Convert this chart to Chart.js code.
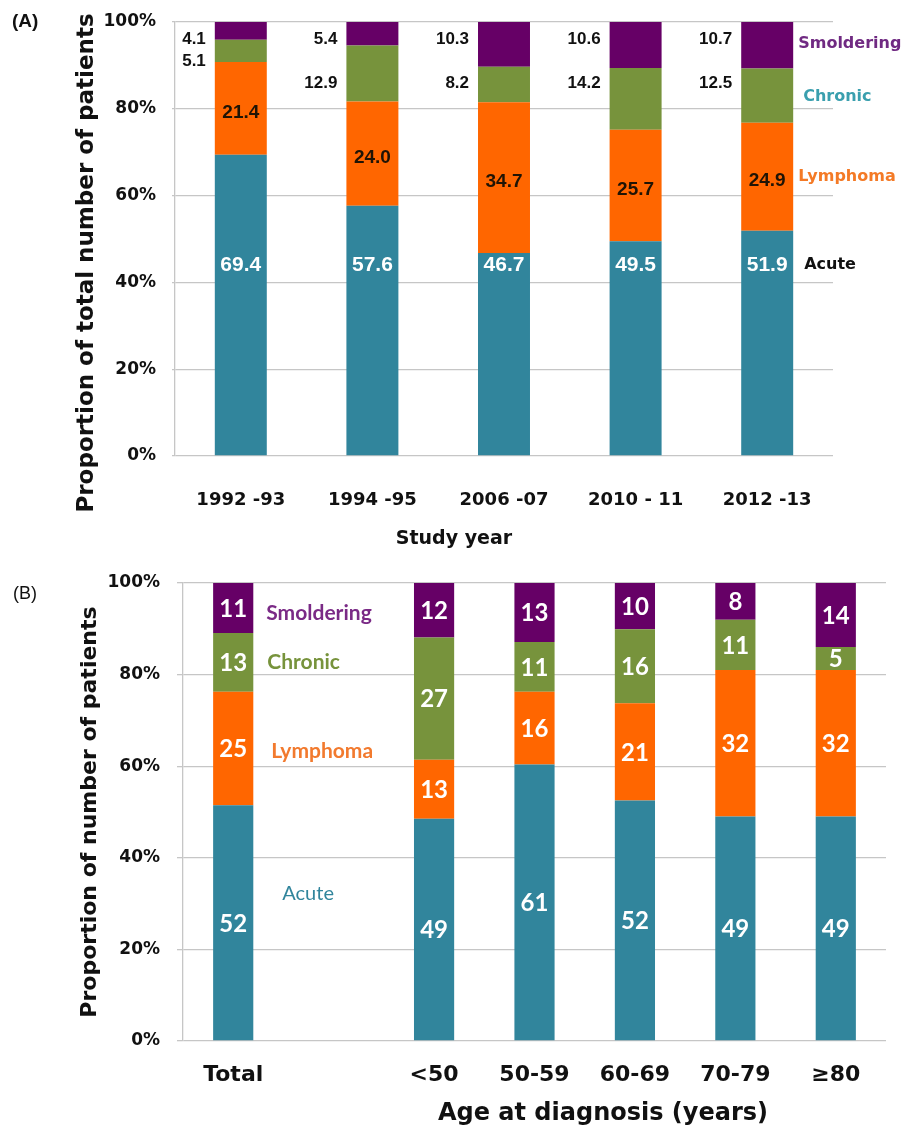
<!DOCTYPE html>
<html><head><meta charset="utf-8">
<script src="https://cdn.jsdelivr.net/npm/chart.js@4/dist/chart.umd.min.js"></script>
<style>
html,body{margin:0;padding:0;background:#fff;}
#wrap{position:relative;width:912px;height:1130px;overflow:hidden;}
.box{position:absolute;left:0;width:912px;}
</style></head><body>
<div id="wrap">
  <div class="box" style="top:0;height:560px"><canvas id="ca" width="912" height="560"></canvas></div>
  <div class="box" style="top:560px;height:570px"><canvas id="cb" width="912" height="570"></canvas></div>
</div>
<script>
// ---------- data ----------
const categoriesA = ['1992 -93', '1994 -95', '2006 -07', '2010 - 11', '2012 -13'];
const acuteA      = [69.4, 57.6, 46.7, 49.5, 51.9];
const lymphomaA   = [21.4, 24.0, 34.7, 25.7, 24.9];
const chronicA    = [5.1, 12.9, 8.2, 14.2, 12.5];
const smolderingA = [4.1, 5.4, 10.3, 10.6, 10.7];

const categoriesB = ['Total', '', '<50', '50-59', '60-69', '70-79', '≥80'];
const acuteB      = [52, null, 49, 61, 52, 49, 49];
const lymphomaB   = [25, null, 13, 16, 21, 32, 32];
const chronicB    = [13, null, 27, 11, 16, 11, 5];
const smolderingB = [11, null, 12, 13, 10, 8, 14];

const seriesNames = ['Acute', 'Lymphoma', 'Chronic', 'Smoldering'];
const tickValues  = [0, 20, 40, 60, 80, 100];

const titleA  = 'Proportion of total number of patients';
const xTitleA = 'Study year';
const titleB  = 'Proportion of number of patients';
const xTitleB = 'Age at diagnosis (years)';

// ---------- helpers ----------
const barColors = ['#31859C', '#FF6600', '#77933C', '#660066'];
const GRID = '#c6c6c6';

function toShares(list) {
  const n = list[0].length;
  const tot = Array.from({length: n}, (_, i) => list.reduce((s, a) => s + (a[i] == null ? 0 : a[i]), 0));
  return list.map(a => a.map((v, i) => v == null ? null : v / tot[i] * 100));
}
function txt(ctx, s, x, y, font, color, align) {
  ctx.save();
  ctx.font = font; ctx.fillStyle = color;
  ctx.textAlign = align || 'center'; ctx.textBaseline = 'middle';
  ctx.fillText(s, x, y);
  ctx.restore();
}
function vtxt(ctx, s, x, y, font, color) {
  ctx.save();
  ctx.translate(x, y); ctx.rotate(-Math.PI / 2);
  ctx.font = font; ctx.fillStyle = color;
  ctx.textAlign = 'center'; ctx.textBaseline = 'middle';
  ctx.fillText(s, 0, 0);
  ctx.restore();
}
function makeDatasets(raw) {
  const shares = toShares(raw);
  return shares.map((d, k) => ({
    label: seriesNames[k], data: d, backgroundColor: barColors[k], borderWidth: 0
  }));
}
function baseOptions(cfg) {
  return {
    responsive: false, animation: false,
    layout: {padding: {left: 0, top: cfg.top, right: cfg.right, bottom: 0}},
    plugins: {legend: {display: false}, tooltip: {enabled: false}},
    datasets: {bar: {categoryPercentage: 1, barPercentage: cfg.barPct}},
    scales: {
      x: {
        stacked: true,
        grid: {display: false, drawTicks: false},
        border: {display: false},
        ticks: {color: '#111', padding: cfg.xPad, font: {family: 'DejaVu Sans', weight: 'bold', size: cfg.xFont}, maxRotation: 0, autoSkip: false},
        afterFit: s => { s.height = cfg.xHeight; s.paddingLeft = 0; s.paddingRight = 0; }
      },
      y: {
        stacked: true, min: 0, max: 100,
        afterBuildTicks: s => { s.ticks = tickValues.map(v => ({value: v})); },
        grid: {color: GRID, lineWidth: 1.3, drawTicks: true, tickLength: cfg.tickLen, tickColor: GRID},
        border: {display: true, color: GRID, width: 1.3},
        ticks: {color: '#111', padding: cfg.yPad, font: {family: 'DejaVu Sans', weight: 'bold', size: 17}, callback: v => v + '%'},
        afterFit: s => { s.width = cfg.yWidth; s.paddingTop = 0; s.paddingBottom = 0; }
      }
    }
  };
}

// ---------- chart A ----------
const labelsA = {
  id: 'labelsA',
  afterDatasetsDraw(chart) {
    const ctx = chart.ctx, y = chart.scales.y;
    const m = [0, 1, 2, 3].map(i => chart.getDatasetMeta(i));
    const fOut = 'bold 17px "Liberation Sans"';
    categoriesA.forEach((c, i) => {
      const b0 = m[0].data[i], x = b0.x, half = b0.width / 2;
      txt(ctx, acuteA[i].toFixed(1), x, y.getPixelForValue(44), 'bold 21px "Liberation Sans"', '#ffffff');
      const b1 = m[1].data[i];
      txt(ctx, lymphomaA[i].toFixed(1), x, (b1.y + b1.base) / 2 + 4, 'bold 19px "Liberation Sans"', '#1f1405');
      const b2 = m[2].data[i];
      const cPct = Math.max(85.8, y.getValueForPixel((b2.y + b2.base) / 2) - 2.4);
      txt(ctx, chronicA[i].toFixed(1), x - half - 9, y.getPixelForValue(cPct), fOut, '#111', 'right');
      txt(ctx, smolderingA[i].toFixed(1), x - half - 9, y.getPixelForValue(96.1), fOut, '#111', 'right');
    });
    // series names beside the last bar
    const last = categoriesA.length - 1;
    const lb = m[0].data[last], lx = lb.x + lb.width / 2;
    const f = 'bold 16px "DejaVu Sans"';
    const s3 = m[3].data[last], s2 = m[2].data[last], s1 = m[1].data[last];
    txt(ctx, seriesNames[3], lx + 5, (s3.y + s3.base) / 2 - 1, f, '#702a82', 'left');
    txt(ctx, seriesNames[2], lx + 10, (s2.y + s2.base) / 2 + 1, f, '#3a9fae', 'left');
    txt(ctx, seriesNames[1], lx + 5, (s1.y + s1.base) / 2, f, '#f47a26', 'left');
    txt(ctx, seriesNames[0], lx + 11, y.getPixelForValue(44), f, '#111', 'left');
    // titles
    vtxt(ctx, titleA, 87, 263, 'bold 23px "DejaVu Sans"', '#111');
    txt(ctx, xTitleA, 454, 539, 'bold 19px "DejaVu Sans"', '#111');
    txt(ctx, '(A)', 12, 22, 'bold 19px "Liberation Sans"', '#111', 'left');
  }
};

new Chart(document.getElementById('ca'), {
  type: 'bar',
  data: {labels: categoriesA, datasets: makeDatasets([acuteA, lymphomaA, chronicA, smolderingA])},
  options: baseOptions({top: 22, right: 79, barPct: 0.395, xPad: 34, xFont: 18, xHeight: 104, tickLen: 3, yPad: 16, yWidth: 175}),
  plugins: [labelsA]
});

// ---------- chart B ----------
const labelsB = {
  id: 'labelsB',
  afterDatasetsDraw(chart) {
    const ctx = chart.ctx, y = chart.scales.y;
    const m = [0, 1, 2, 3].map(i => chart.getDatasetMeta(i));
    const raw = [acuteB, lymphomaB, chronicB, smolderingB];
    const fNum = 'bold 24px Lato';
    categoriesB.forEach((c, i) => {
      raw.forEach((arr, k) => {
        if (arr[i] == null) return;
        const b = m[k].data[i];
        txt(ctx, String(arr[i]), b.x, (b.y + b.base) / 2 + 1, fNum, '#ffffff');
      });
    });
    const tb = m[0].data[0], tx = tb.x + tb.width / 2;
    const f = 'bold 21px Lato';
    const s3 = m[3].data[0], s2 = m[2].data[0], s1 = m[1].data[0];
    txt(ctx, seriesNames[3], tx + 13, (s3.y + s3.base) / 2 + 5, f, '#7a2a86', 'left');
    txt(ctx, seriesNames[2], tx + 14, (s2.y + s2.base) / 2, f, '#77933C', 'left');
    txt(ctx, seriesNames[1], tx + 18, (s1.y + s1.base) / 2 + 3, f, '#F27A2E', 'left');
    txt(ctx, seriesNames[0], tx + 29, y.getPixelForValue(32.3), '20px Lato', '#31859C', 'left');
    vtxt(ctx, titleB, 90, 252, 'bold 22px "DejaVu Sans"', '#111');
    txt(ctx, xTitleB, 603, 554, 'bold 24px "DejaVu Sans"', '#111');
    txt(ctx, '(B)', 13, 34, '18px "Liberation Sans"', '#111', 'left');
  }
};

new Chart(document.getElementById('cb'), {
  type: 'bar',
  data: {labels: categoriesB, datasets: makeDatasets([acuteB, lymphomaB, chronicB, smolderingB])},
  options: baseOptions({top: 23, right: 26, barPct: 0.4, xPad: 21, xFont: 22, xHeight: 89, tickLen: 6, yPad: 17, yWidth: 183}),
  plugins: [labelsB]
});
</script>
</body></html>
